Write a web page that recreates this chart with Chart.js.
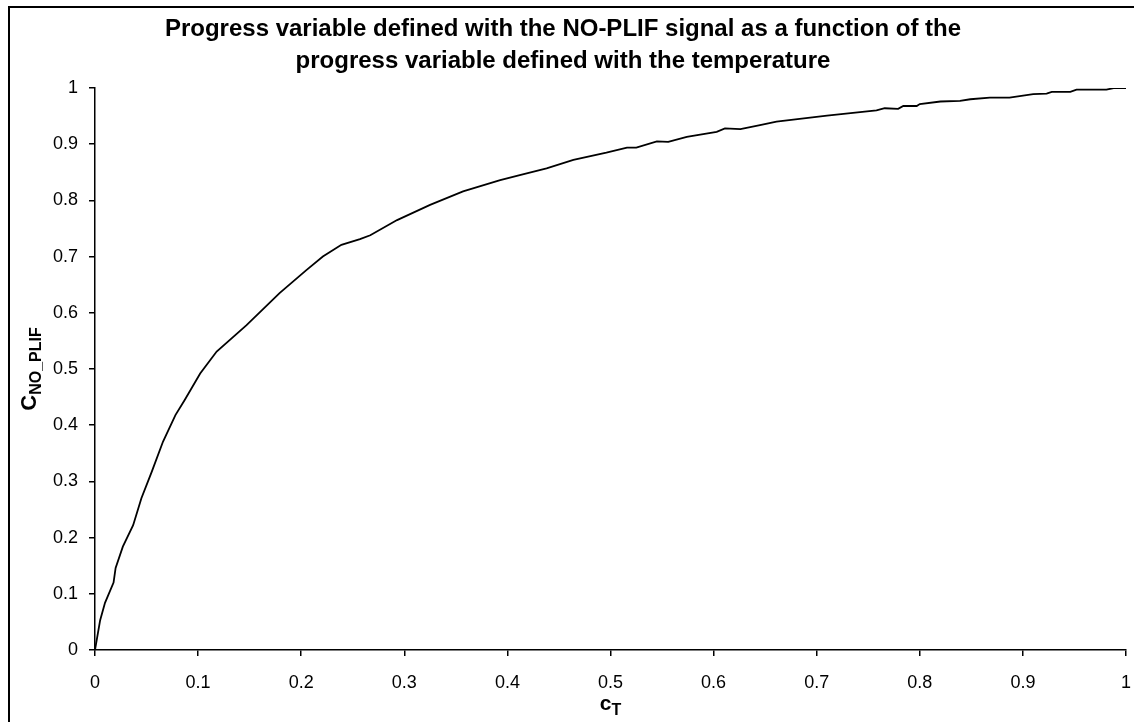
<!DOCTYPE html>
<html>
<head>
<meta charset="utf-8">
<script src="https://cdn.jsdelivr.net/npm/chart.js@4"></script>
<style>
  html, body { margin: 0; padding: 0; background: #fff; overflow: hidden; }
  #wrap { position: relative; width: 1134px; height: 722px; overflow: hidden; }
  #frame { position: absolute; left: 8px; top: 6px; width: 1200px; height: 800px; border: 2px solid #000; pointer-events: none; }
  canvas { position: absolute; left: 0; top: 0; }
</style>
</head>
<body>
<div id="wrap">
  <canvas id="progressChart" width="1134" height="722"></canvas>
  <div id="frame"></div>
</div>
<script>
// progress variable from temperature (x) and from NO-PLIF signal (y)
const cT = [0, 0.005, 0.0097, 0.018, 0.020, 0.027, 0.037, 0.045, 0.055, 0.066, 0.078, 0.087,
  0.102, 0.118, 0.147, 0.179, 0.205, 0.221, 0.239, 0.257, 0.267, 0.293, 0.325, 0.357, 0.393,
  0.412, 0.438, 0.464, 0.496, 0.516, 0.525, 0.545, 0.556, 0.574, 0.587, 0.603, 0.611, 0.626,
  0.645, 0.661, 0.710, 0.758, 0.766, 0.779, 0.784, 0.797, 0.800, 0.820, 0.839, 0.849, 0.868,
  0.887, 0.910, 0.923, 0.928, 0.946, 0.952, 0.981, 0.988, 1.0];
const cNoPlif = [0, 0.053, 0.084, 0.12, 0.146, 0.184, 0.222, 0.27, 0.317, 0.371, 0.418, 0.445,
  0.492, 0.531, 0.578, 0.635, 0.676, 0.700, 0.721, 0.731, 0.738, 0.765, 0.792, 0.816, 0.836,
  0.845, 0.857, 0.872, 0.885, 0.894, 0.894, 0.905, 0.904, 0.913, 0.917, 0.922, 0.928, 0.927,
  0.934, 0.940, 0.951, 0.960, 0.964, 0.963, 0.968, 0.968, 0.9715, 0.976, 0.977, 0.980, 0.983,
  0.983, 0.989, 0.990, 0.993, 0.993, 0.997, 0.997, 1.0, 1.0];

const titleLines = [
  'Progress variable defined with the NO-PLIF signal as a function of the',
  'progress variable defined with the temperature'
];
const xTitle = { main: 'c', sub: 'T' };
const yTitle = { main: 'C', sub: 'NO_PLIF' };

const FONT = "'Liberation Sans', Arial, sans-serif";

// axis titles need subscripts, so draw them by hand
const axisTitles = {
  id: 'axisTitles',
  afterDraw(chart) {
    const ctx = chart.ctx;
    const area = chart.chartArea;
    ctx.save();
    ctx.fillStyle = '#000';
    ctx.textBaseline = 'alphabetic';
    ctx.textAlign = 'left';

    // x title
    ctx.font = 'bold 21px ' + FONT;
    const wMain = ctx.measureText(xTitle.main).width;
    ctx.font = 'bold 16px ' + FONT;
    const wSub = ctx.measureText(xTitle.sub).width;
    let x0 = (area.left + area.right) / 2 - (wMain + wSub) / 2;
    ctx.font = 'bold 21px ' + FONT;
    ctx.fillText(xTitle.main, x0, 710);
    ctx.font = 'bold 16px ' + FONT;
    ctx.fillText(xTitle.sub, x0 + wMain, 715);

    // y title, rotated
    ctx.font = 'bold 22px ' + FONT;
    const yMain = ctx.measureText(yTitle.main).width;
    ctx.font = 'bold 16px ' + FONT;
    const ySub = ctx.measureText(yTitle.sub).width;
    ctx.translate(0, (area.top + area.bottom) / 2);
    ctx.rotate(-Math.PI / 2);
    const s0 = -(yMain + ySub) / 2;
    ctx.font = 'bold 22px ' + FONT;
    ctx.fillText(yTitle.main, s0, 36);
    ctx.font = 'bold 16px ' + FONT;
    ctx.fillText(yTitle.sub, s0 + yMain, 41);
    ctx.restore();
  }
};

const ctx = document.getElementById('progressChart').getContext('2d');
new Chart(ctx, {
  type: 'scatter',
  data: {
    datasets: [{
      data: cT.map((x, i) => ({ x: x, y: cNoPlif[i] })),
      showLine: true,
      borderColor: '#000',
      borderWidth: 1.8,
      pointRadius: 0,
      tension: 0
    }]
  },
  options: {
    responsive: false,
    animation: false,
    layout: { padding: { left: 0, right: 8, top: 0, bottom: 0 } },
    plugins: {
      legend: { display: false },
      tooltip: { enabled: false },
      title: {
        display: true,
        text: titleLines,
        color: '#000',
        font: { family: FONT, size: 24, weight: 'bold', lineHeight: 32 / 24 },
        padding: { top: 13, bottom: 11 }
      }
    },
    scales: {
      x: {
        type: 'linear',
        min: 0,
        max: 1,
        afterFit: (s) => { s.height = 72; s.paddingLeft = 0; s.paddingRight = 0; },
        border: { display: true, color: '#000', width: 1.5 },
        grid: { display: true, drawOnChartArea: false, drawTicks: true, tickLength: 6, color: '#000', lineWidth: 1.5 },
        ticks: { stepSize: 0.1, color: '#000', padding: 16, maxRotation: 0, font: { family: FONT, size: 18 },
          callback: (v) => +v.toFixed(1) }
      },
      y: {
        type: 'linear',
        min: 0,
        max: 1,
        afterFit: (s) => { s.width = 95; },
        border: { display: true, color: '#000', width: 1.5 },
        grid: { display: true, drawOnChartArea: false, drawTicks: true, tickLength: 6, color: '#000', lineWidth: 1.5 },
        ticks: { stepSize: 0.1, color: '#000', padding: 11, font: { family: FONT, size: 18 },
          callback: (v) => +v.toFixed(1) }
      }
    }
  },
  plugins: [axisTitles]
});
</script>
</body>
</html>
